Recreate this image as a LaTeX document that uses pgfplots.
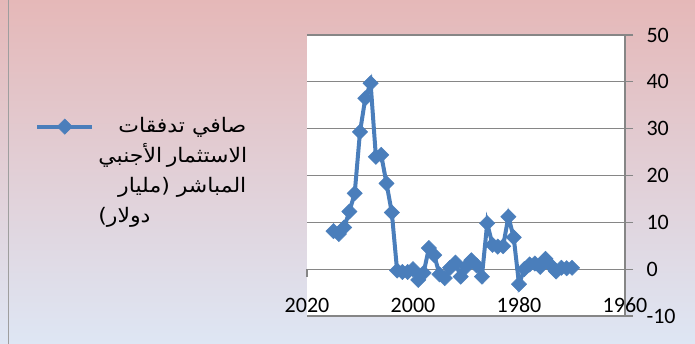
\documentclass[border=0pt]{standalone}
\usepackage{pgfplots}
\pgfplotsset{compat=1.18}
\usepackage{fontspec}
\setmainfont{Carlito}
\newfontfamily\arabicfont[Script=Arabic, FakeStretch=1.1]{DejaVu Sans}
\TeXXeTstate=1
\definecolor{serie}{RGB}{74,126,187}
\definecolor{gridg}{RGB}{134,134,134}
\definecolor{bgtop}{RGB}{229,184,184}
\definecolor{bgmid}{RGB}{199,211,237}
\definecolor{bgbot}{RGB}{222,230,244}
\begin{document}
\begin{tikzpicture}
\path[use as bounding box] (0,0) rectangle (695pt,344pt);
\shade[top color=bgtop, middle color=bgmid, bottom color=bgbot] (0,0) rectangle (695pt,344pt);
\draw[color=gridg!80, line width=1.2pt] (8.5pt,0) -- (8.5pt,344pt);
\begin{axis}[
  at={(307pt,28pt)}, anchor=south west,
  width=318pt, height=281pt, scale only axis,
  xmin=1960, xmax=2020, x dir=reverse,
  ymin=-10, ymax=50,
  axis background/.style={fill=white},
  axis y line*=right,
  axis x line*=bottom,
  x axis line style={draw=none},
  y axis line style={color=gridg, line width=1.3pt},
  xtick={1960,1980,2000,2020},
  ytick={-10,0,10,20,30,40,50},
  x tick style={draw=none},
  y tick style={color=gridg, line width=1.3pt},
  tick align=outside,
  major tick length=8pt,
  ymajorgrids,
  grid style={color=gridg, line width=1.3pt},
  /pgf/number format/assume math mode=true,
  /pgf/number format/1000 sep={},
  tick label style={font=\fontsize{22}{26}\selectfont},
  xticklabel style={anchor=center, yshift=18.5pt},
  yticklabel style={anchor=west, xshift=10pt},
  clip=false,
  legend style={at={(axis description cs:-0.855,0.736)}, anchor=north west,
    draw=none, fill=none, inner sep=0pt, column sep=2pt},
  legend image code/.code={\draw[#1, mark repeat=2, mark phase=2, yshift=-4pt]
     plot coordinates {(0pt,0pt) (27.5pt,0pt) (55pt,0pt)};},
]
\addplot[color=serie, line width=4pt, mark=square*, mark size=5.4pt,
  mark options={rotate=45, line width=0.5pt, solid, fill=serie}]
  table[row sep=\\] {
  x y\\
  1970 0.3\\ 1971 0.2\\ 1972 0.3\\ 1973 -0.5\\ 1974 0.8\\ 1975 2.2\\
  1976 0.5\\ 1977 1.2\\ 1978 1.0\\ 1979 0.0\\ 1980 -3.2\\ 1981 6.8\\
  1982 11.2\\ 1983 4.9\\ 1984 4.8\\ 1985 5.2\\ 1986 9.8\\ 1987 -1.6\\
  1988 0.8\\ 1989 1.9\\ 1990 0.5\\ 1991 -1.6\\ 1992 1.4\\ 1993 0.3\\
  1994 -1.9\\ 1995 -1.1\\ 1996 3.0\\ 1997 4.5\\ 1998 -0.8\\ 1999 -2.3\\
  2000 0.0\\ 2001 -0.6\\ 2002 -0.6\\ 2003 -0.3\\ 2004 12.1\\ 2005 18.3\\
  2006 24.4\\ 2007 24.0\\ 2008 39.7\\ 2009 36.5\\ 2010 29.3\\ 2011 16.2\\
  2012 12.3\\ 2013 8.9\\ 2014 7.5\\ 2015 8.1\\
  };
\addlegendentry{\arabicfont\fontsize{20}{30}\selectfont\begin{tabular}[t]{@{}l@{}}
\hbox to 148pt{\hfil\beginR صافي تدفقات\endR}\\
\hbox to 148pt{\hfil\beginR الاستثمار الأجنبي\endR}\\
\hbox to 148pt{\hfil\beginR المباشر (مليار\endR}\\
\hbox to 148pt{\beginR دولار)\endR\hfil}
\end{tabular}}
\draw[color=gridg, line width=1.3pt] (axis cs:2020,0) -- ([yshift=-8pt]axis cs:2020,0);
\end{axis}
\end{tikzpicture}
\end{document}
